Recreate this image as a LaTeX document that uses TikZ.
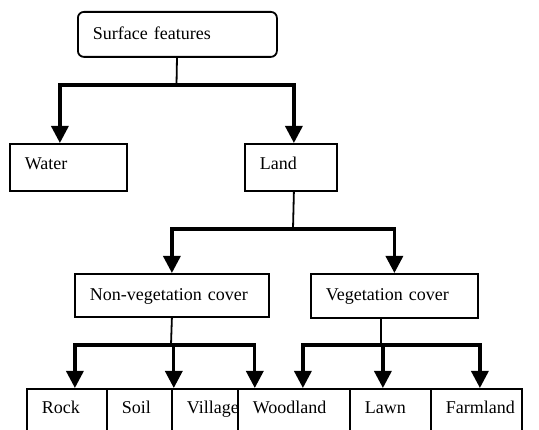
\documentclass[tikz,border=0pt]{standalone}
\usepackage{fontspec}
\setmainfont{Liberation Serif}
\usetikzlibrary{arrows.meta}
\begin{document}
\begin{tikzpicture}[x=1pt,y=-1pt,
    box/.style={draw,line width=1.8pt,anchor=north west,inner xsep=15pt,inner ysep=0pt,
        align=left,text height=12pt,text depth=2pt,font=\fontsize{18}{21}\selectfont},
    low/.style={text depth=8pt},
    leaf/.style={box,low,minimum height=46pt},
    stem/.style={line width=1.8pt},
    branch/.style={line width=3.3pt,-{Triangle[width=17pt,length=17pt]}}]
    \useasboundingbox (0,0) rectangle (539,430);
    \clip (0,0) rectangle (539,430);

    \node[box,rounded corners=6pt,text width=169pt,minimum height=45pt] (surface) at (77,11) {Surface features};

    \node[box,low,text width=87pt,minimum height=47pt] (water) at (9,143) {Water};
    \node[box,low,text width=62pt,minimum height=47pt] (land) at (244,143) {Land};

    \node[box,text width=164pt,minimum height=43pt] (nonveg) at (74,273) {Non-vegetation cover};
    \node[box,text width=137pt,minimum height=44pt] (veg) at (310,273) {Vegetation cover};

    \node[leaf,text width=50pt] (rock) at (26,388) {Rock};
    \node[leaf,text width=35pt] (soil) at (106,388) {Soil};
    \node[leaf,text width=36pt] (village) at (171,388) {Village};
    \node[leaf,text width=82pt] (woodland) at (237,388) {Woodland};
    \node[leaf,text width=51pt] (lawn) at (349,388) {Lawn};
    \node[leaf,text width=61pt] (farmland) at (430,388) {Farmland};

    % junctions
    \coordinate (j1) at (176.5,85);
    \coordinate (j2) at (293,229);
    \coordinate (j3) at (171,345);
    \coordinate (j4) at (381,345);

    \draw[stem] (surface) -- (j1);
    \draw[branch] (j1) -| ([xshift=-8.5pt]water.north);
    \draw[branch] (j1) -| ([xshift=3pt]land.north);

    \draw[stem] ([xshift=3pt]land.south) -- (j2);
    \draw[branch] (j2) -| (nonveg.north);
    \draw[branch] (j2) -| (veg.north);

    \draw[stem] (nonveg.south) -- (j3);
    \draw[branch] (j3) -| ([xshift=8pt]rock.north);
    \draw[branch] (j3) -| ([xshift=1pt]soil.north east);
    \draw[branch] (j3) -| ([xshift=16pt]village.north east);

    \draw[stem] ([xshift=-13.5pt]veg.south) -- (j4);
    \draw[branch] (j4) -| ([xshift=9pt]woodland.north);
    \draw[branch] (j4) -| ([xshift=-7.5pt]lawn.north);
    \draw[branch] (j4) -| ([xshift=3.5pt]farmland.north);
\end{tikzpicture}
\end{document}
